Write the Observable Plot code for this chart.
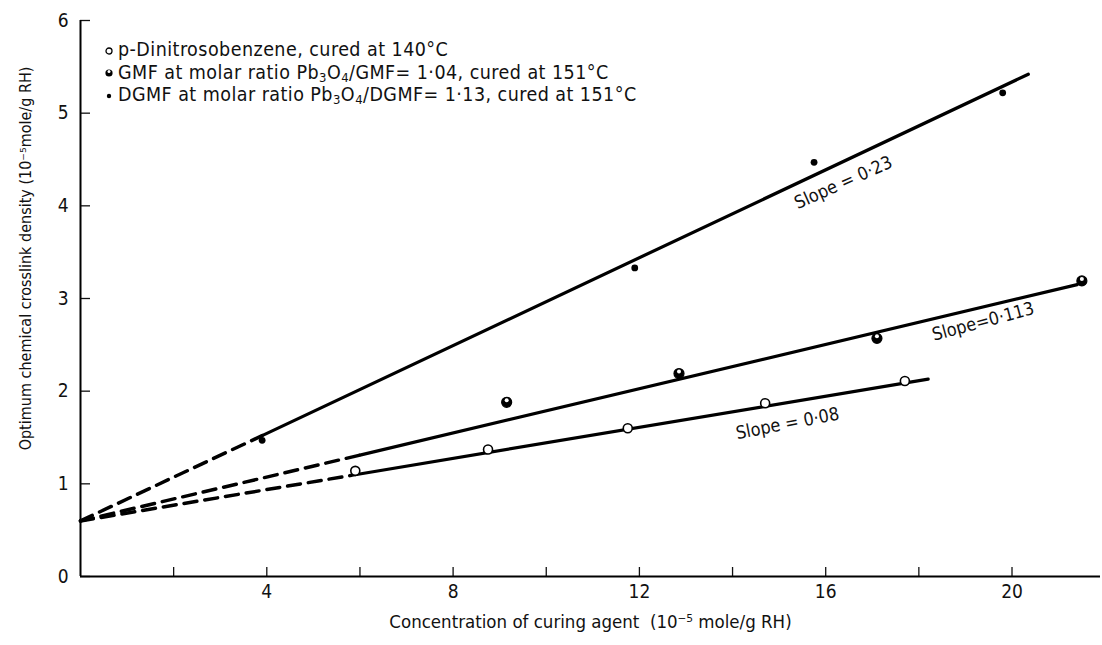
<!DOCTYPE html>
<html>
<head>
<meta charset="utf-8">
<script src="https://cdn.jsdelivr.net/npm/d3@7"></script>
<script src="https://cdn.jsdelivr.net/npm/@observablehq/plot@0.6"></script>
<style>
  body { margin: 0; background: #fff; }
  #wrap { position: relative; width: 1102px; height: 645px;
          font-family: "Liberation Sans Narrow", "DejaVu Sans Condensed", "Liberation Sans", sans-serif;
          font-stretch: condensed; color: #111; }
  #legend { position: absolute; left: 104px; top: 39px; font-size: 19.5px; letter-spacing: 0.45px; line-height: 22.5px; }
  #legend .row { white-space: nowrap; }
  #legend svg { vertical-align: middle; margin-right: 4px; }
  #legend sub { font-size: 13px; vertical-align: -3px; line-height: 0; }
</style>
</head>
<body>
<div id="wrap"><div id="chart"></div><div id="legend"></div></div>
<script>
// ---- data ----
const seriesNames = ["p-Dinitrosobenzene", "GMF", "DGMF"];

const dnbX  = [5.9, 8.75, 11.75, 14.7, 17.7];
const dnbY  = [1.14, 1.37, 1.60, 1.87, 2.11];
const gmfX  = [9.15, 12.85, 17.1, 21.5];
const gmfY  = [1.88, 2.19, 2.57, 3.19];
const dgmfX = [3.9, 11.9, 15.75, 19.8];
const dgmfY = [1.47, 3.33, 4.47, 5.22];

// fitted lines: [start, break (dashed -> solid), end]
const dnbFitX  = [0, 5.8, 18.2];
const dnbFitY  = [0.6, 1.09, 2.13];
const gmfFitX  = [0, 6.0, 21.4];
const gmfFitY  = [0.6, 1.31, 3.15];
const dgmfFitX = [0, 3.9, 20.35];
const dgmfFitY = [0.6, 1.52, 5.42];

const slopeText  = ["Slope = 0·08", "Slope=0·113", "Slope = 0·23"];
const slopeX     = [15.18, 19.38, 16.38];
const slopeY     = [1.65, 2.75, 4.25];
const slopeAngle = [-11, -15, -24];

const xLabelTicks = [4, 8, 12, 16, 20];
const xMinorTicks = [2, 4, 6, 8, 10, 12, 14, 16, 18, 20];
const yTicks = [0, 1, 2, 3, 4, 5, 6];

const xTitle = "Concentration of curing agent  (10\u207B\u2075 mole/g RH)";
const yTitle = "Optimum chemical crosslink density (10\u207B\u2075mole/g RH)";

const legendHTML = [
  "p-Dinitrosobenzene, cured at 140°C",
  "GMF at molar ratio Pb<sub>3</sub>O<sub>4</sub>/GMF= 1·04, cured at 151°C",
  "DGMF at molar ratio Pb<sub>3</sub>O<sub>4</sub>/DGMF= 1·13, cured at 151°C"
];

// ---- build tables ----
const pts = (xs, ys) => xs.map((x, i) => ({x, y: ys[i]}));
const dnbPts = pts(dnbX, dnbY), gmfPts = pts(gmfX, gmfY), dgmfPts = pts(dgmfX, dgmfY);
const seg = (xs, ys, a, b) => [{x: xs[a], y: ys[a]}, {x: xs[b], y: ys[b]}];
const fits = [[dnbFitX, dnbFitY], [gmfFitX, gmfFitY], [dgmfFitX, dgmfFitY]];
const slopes = slopeText.map((t, i) => ({t, x: slopeX[i], y: slopeY[i], a: slopeAngle[i]}));

const font = '"Liberation Sans Narrow", "DejaVu Sans Condensed", "Liberation Sans", sans-serif';

const marks = [
  Plot.axisX({ticks: xMinorTicks, tickSize: 9, dy: -9, tickFormat: () => "", label: null, strokeWidth: 1.3}),
  Plot.axisX({ticks: xLabelTicks, tickSize: 0, tickPadding: 8, fontSize: 19, label: null}),
  Plot.axisY({ticks: yTicks, tickSize: 10, dx: 10, tickFormat: () => "", label: null, strokeWidth: 1.3}),
  Plot.axisY({ticks: yTicks, tickSize: 0, tickPadding: 12, fontSize: 19, tickFormat: "d", label: null}),
  Plot.ruleX([0], {stroke: "#000", strokeWidth: 2}),
  Plot.ruleY([0], {stroke: "#000", strokeWidth: 2}),
  Plot.text([xTitle], {frameAnchor: "bottom", textAnchor: "middle", dy: 51, fontSize: 18.5, fill: "#111"}),
  Plot.text([yTitle], {frameAnchor: "left", textAnchor: "middle", rotate: -90, dx: -55, dy: -40, fontSize: 16, fill: "#111"})
];
for (const [fx, fy] of fits) {
  marks.push(Plot.line(seg(fx, fy, 0, 1), {x: "x", y: "y", stroke: "#000", strokeWidth: 3.5, strokeDasharray: "13 8"}));
  marks.push(Plot.line(seg(fx, fy, 1, 2), {x: "x", y: "y", stroke: "#000", strokeWidth: 3.2}));
}
marks.push(
  Plot.dot(dnbPts, {x: "x", y: "y", r: 4.5, stroke: "#000", strokeWidth: 1.6, fill: "#fff"}),
  Plot.dot(gmfPts, {x: "x", y: "y", r: 5, stroke: "#000", strokeWidth: 1.2, fill: "#000"}),
  Plot.dot(gmfPts, {x: "x", y: "y", r: 2, dy: -2, fill: "#fff"}),
  Plot.dot(dgmfPts, {x: "x", y: "y", r: 3.4, fill: "#000"}),
  Plot.text(slopes, {x: "x", y: "y", text: "t", rotate: "a", fontSize: 18, fill: "#111"})
);

const chart = Plot.plot({
  width: 1102, height: 645,
  marginLeft: 80, marginRight: 2, marginTop: 20, marginBottom: 69,
  style: {fontFamily: font, fontSize: "19px", color: "#111", background: "#fff", overflow: "visible"},
  x: {domain: [0, 21.9]},
  y: {domain: [0, 6]},
  marks
});
document.getElementById("chart").append(chart);

// legend (inside the frame, top-left)
const sym = [
  '<svg width="10" height="10"><circle cx="5" cy="5" r="3" fill="#fff" stroke="#000" stroke-width="1.3"/></svg>',
  '<svg width="10" height="10"><circle cx="5" cy="5" r="3.6" fill="#000"/><circle cx="5" cy="3.6" r="1.5" fill="#fff"/></svg>',
  '<svg width="10" height="10"><circle cx="5" cy="5" r="2.2" fill="#000"/></svg>'
];
document.getElementById("legend").innerHTML =
  legendHTML.map((t, i) => `<div class="row" title="${seriesNames[i]}">${sym[i]}${t}</div>`).join("");
</script>
</body>
</html>
